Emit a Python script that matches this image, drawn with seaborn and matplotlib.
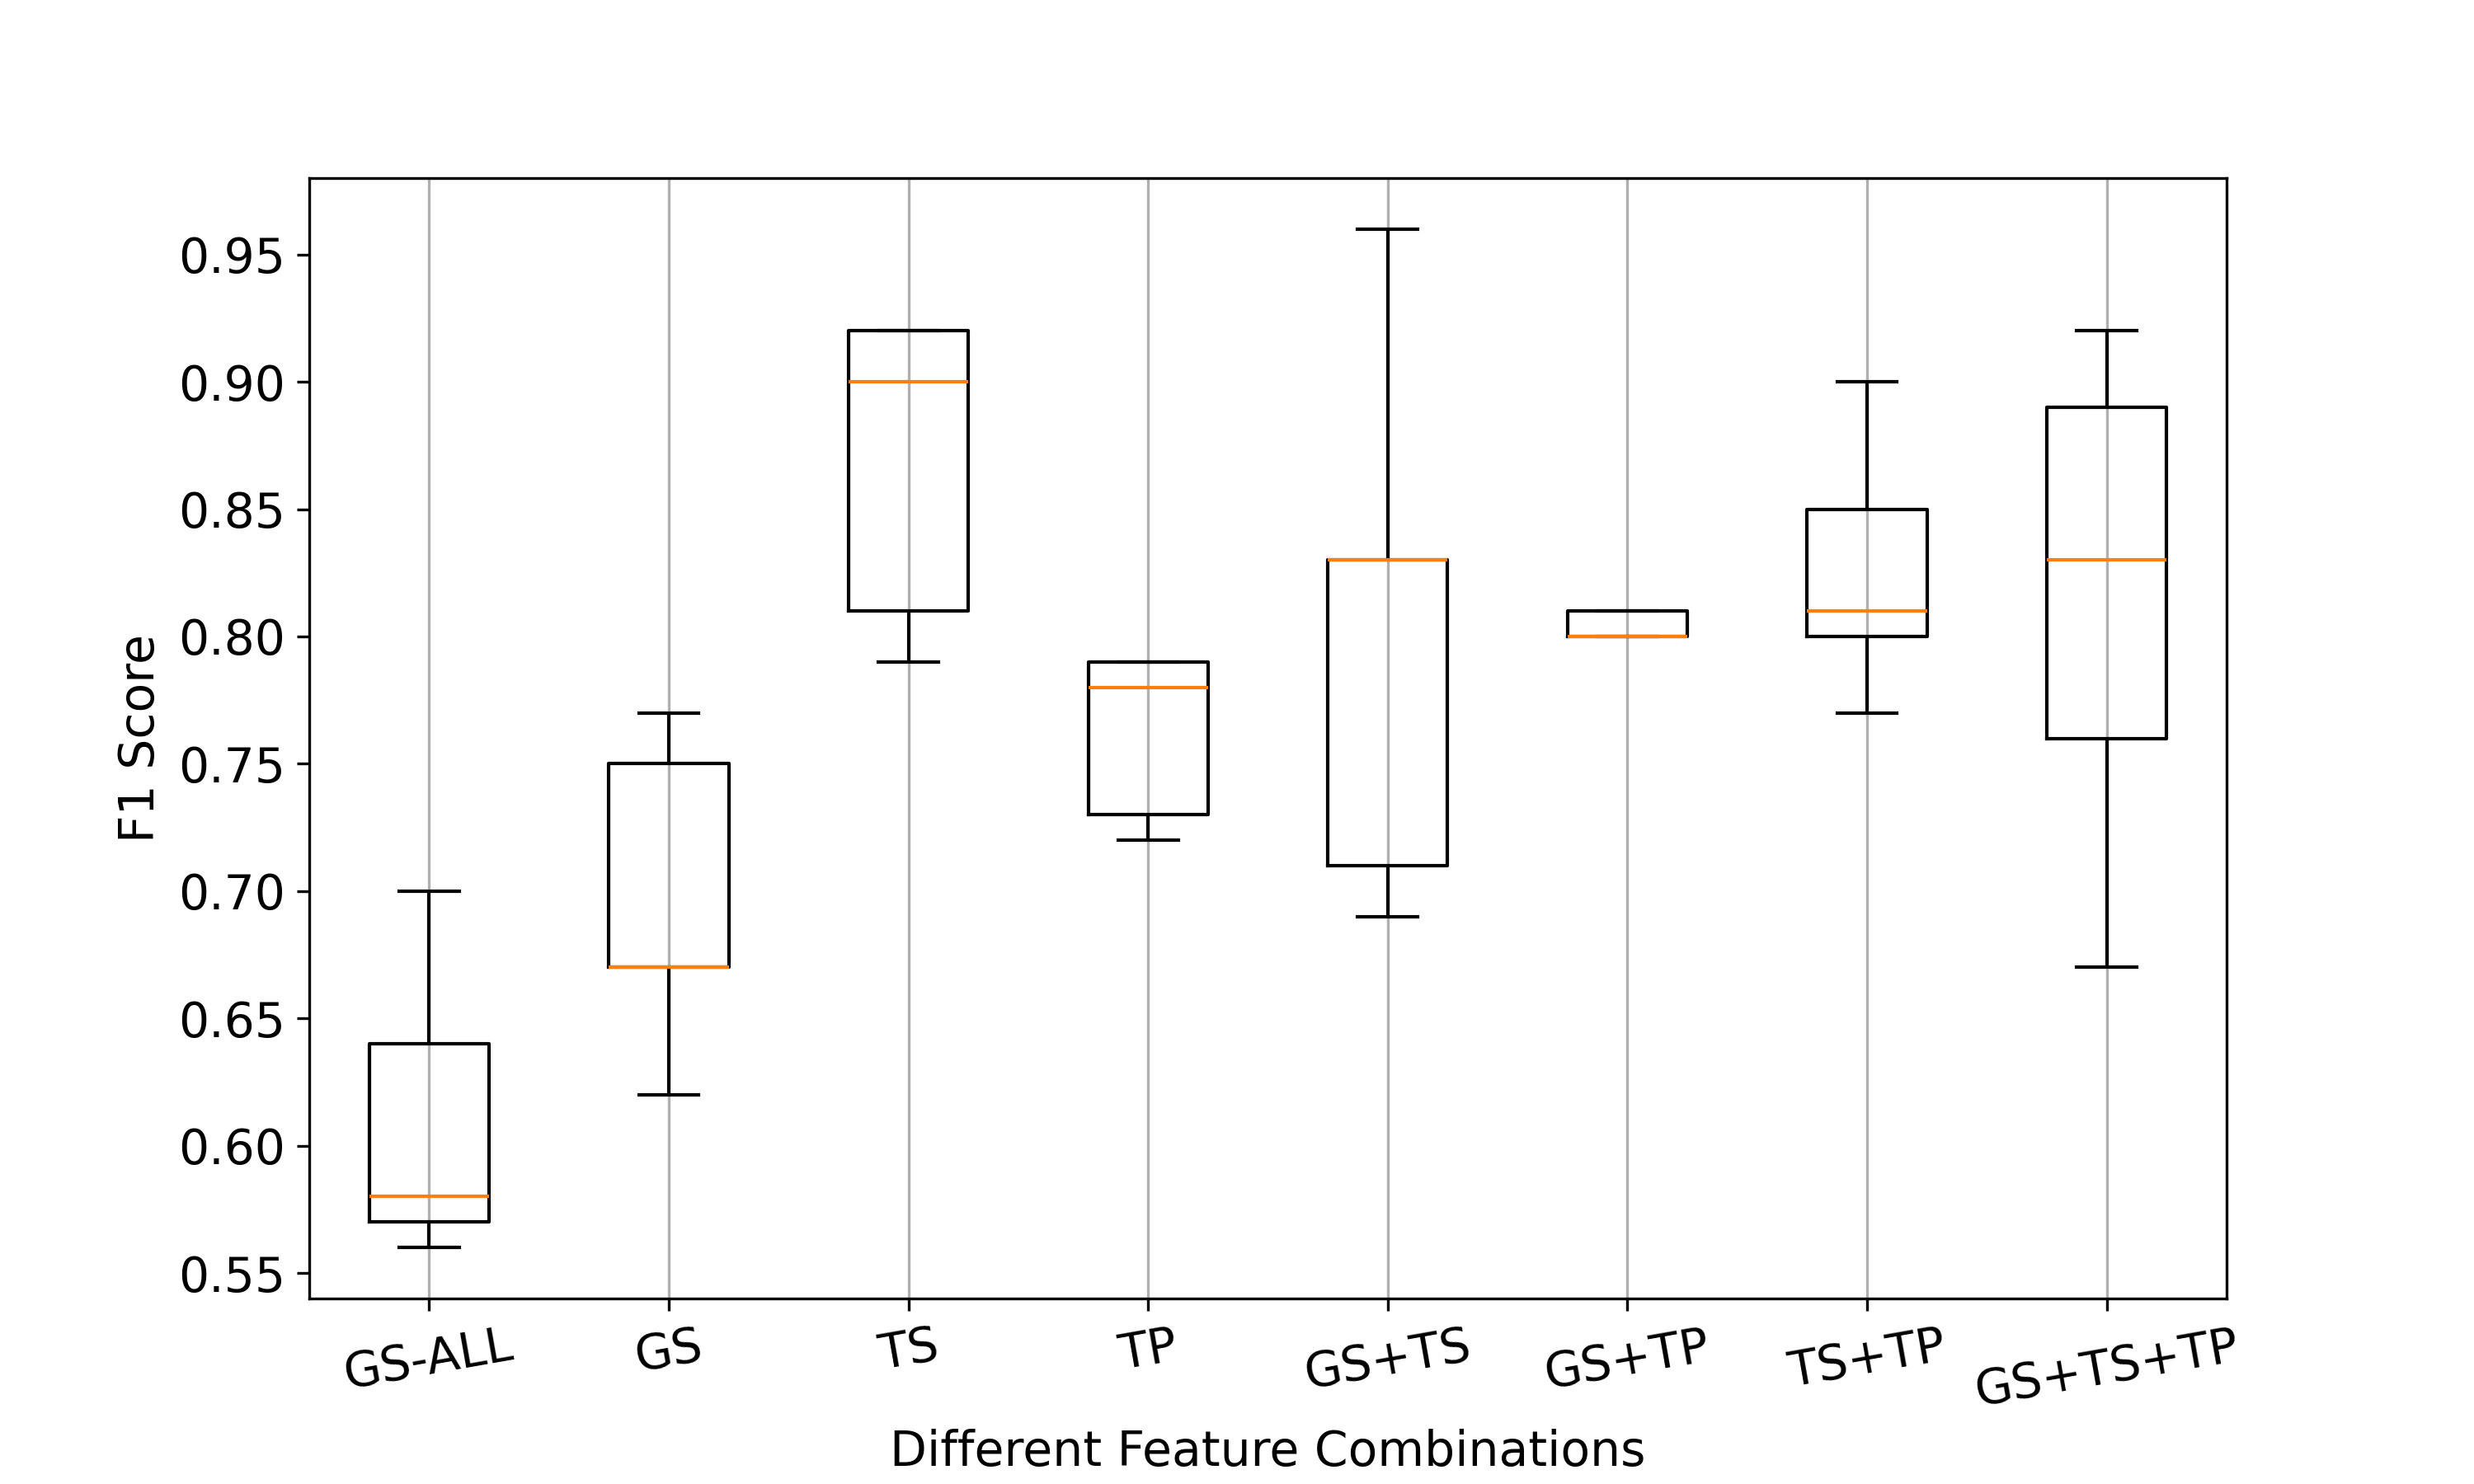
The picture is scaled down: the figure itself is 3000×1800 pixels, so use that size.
import matplotlib
matplotlib.use("Agg")
import matplotlib.pyplot as plt
import seaborn as sns
import pandas as pd

categories = ["GS-ALL", "GS", "TS", "TP", "GS+TS", "GS+TP", "TS+TP", "GS+TS+TP"]
# five values per combination: min, q1, median, q3, max
gs_all = [0.56, 0.57, 0.58, 0.64, 0.70]
gs = [0.62, 0.67, 0.67, 0.75, 0.77]
ts = [0.79, 0.81, 0.90, 0.92, 0.92]
tp = [0.72, 0.73, 0.78, 0.79, 0.79]
gs_ts = [0.69, 0.71, 0.83, 0.83, 0.96]
gs_tp = [0.80, 0.80, 0.80, 0.81, 0.81]
ts_tp = [0.77, 0.80, 0.81, 0.85, 0.90]
gs_ts_tp = [0.67, 0.76, 0.83, 0.89, 0.92]
series = [gs_all, gs, ts, tp, gs_ts, gs_tp, ts_tp, gs_ts_tp]

rows = []
for cat, vals in zip(categories, series):
    for v in vals:
        rows.append({"combo": cat, "f1": v})
df = pd.DataFrame(rows)

plt.rcParams["font.family"] = ["DejaVu Sans"]
fig, ax = plt.subplots(figsize=(10, 6), dpi=300)
fig.subplots_adjust(left=0.125, right=0.9, top=0.88, bottom=0.125)

sns.boxplot(
    data=df, x="combo", y="f1", order=categories, ax=ax,
    fill=False, color="black", width=0.5, linewidth=1,
    whis=1.5,
    boxprops=dict(color="black", linewidth=1),
    whiskerprops=dict(color="black", linewidth=1),
    capprops=dict(color="black", linewidth=1),
    medianprops=dict(color="#ff7f0e", linewidth=1),
    flierprops=dict(marker="o", markerfacecolor="none", markeredgecolor="black"),
)

ax.xaxis.grid(True, color="#b0b0b0", linewidth=0.8)
ax.yaxis.grid(False)
ax.set_axisbelow(True)

ax.set_xlim(-0.5, len(categories) - 0.5)
ax.set_ylim(0.54, 0.98)
ax.set_yticks([0.55, 0.60, 0.65, 0.70, 0.75, 0.80, 0.85, 0.90, 0.95])
ax.set_yticklabels([f"{t:.2f}" for t in ax.get_yticks()])
ax.tick_params(axis="both", labelsize=14)
plt.setp(ax.get_xticklabels(), rotation=10)
ax.set_xlabel("Different Feature Combinations", fontsize=14)
ax.set_ylabel("F1 Score", fontsize=14)
for s in ax.spines.values():
    s.set_visible(True)
    s.set_color("black")

fig.savefig("out.png", dpi=300)
